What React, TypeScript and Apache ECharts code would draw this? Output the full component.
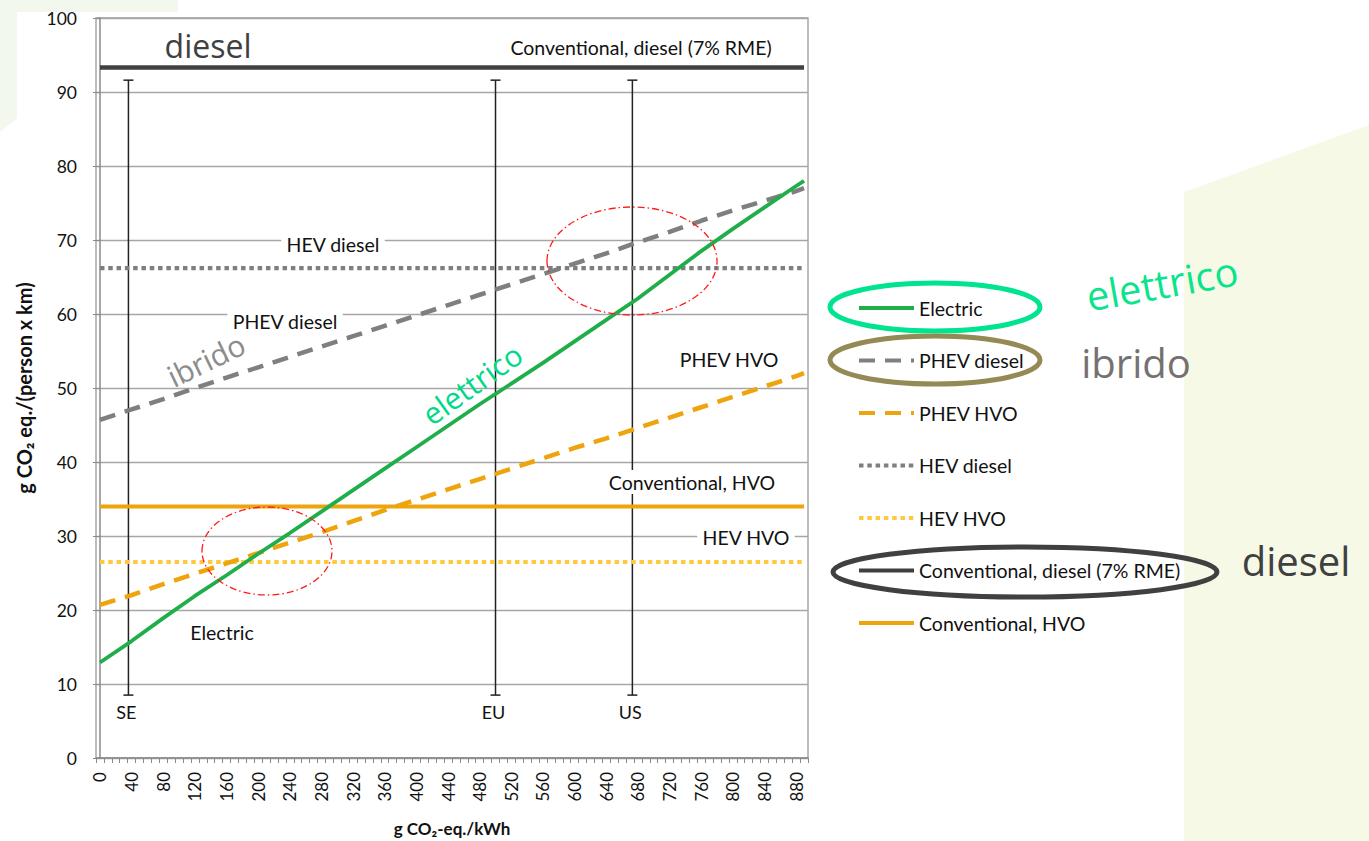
import React, { useEffect, useRef } from 'react';
import * as echarts from 'echarts';

// ---------- data ----------
const xPoints = [0, 40, 80, 120, 160, 200, 240, 280, 320, 360, 400, 440, 480, 520, 560, 600, 640, 680, 720, 760, 800, 840, 880, 890];
const electric = [12.9, 15.8, 18.9, 21.9, 24.7, 27.6, 30.4, 33.3, 36.2, 39.1, 42.0, 44.9, 47.8, 50.6, 53.4, 56.3, 59.2, 62.1, 65.3, 68.5, 71.5, 74.4, 77.3, 78.0];
const phevDiesel = [45.7, 47.1, 48.5, 50.0, 51.4, 52.8, 54.2, 55.6, 57.0, 58.4, 59.8, 61.2, 62.6, 64.0, 65.4, 66.8, 68.2, 69.7, 71.1, 72.6, 74.0, 75.3, 76.6, 77.0];
const phevHvo = [20.7, 22.0, 23.5, 24.9, 26.3, 27.7, 29.1, 30.5, 32.0, 33.5, 34.9, 36.3, 37.7, 39.1, 40.5, 41.9, 43.2, 44.6, 46.0, 47.4, 48.8, 50.2, 51.6, 52.0];
const flatEnds = [0, 890];
const hevDiesel = 66.2;
const hevHvo = 26.5;
const convDiesel = 93.3;
const convHvo = 34.0;

const seriesNames = ['Electric', 'PHEV diesel', 'PHEV HVO', 'HEV diesel', 'HEV HVO', 'Conventional, diesel (7% RME)', 'Conventional, HVO'];

const xTickLabels = [0, 40, 80, 120, 160, 200, 240, 280, 320, 360, 400, 440, 480, 520, 560, 600, 640, 680, 720, 760, 800, 840, 880];

const refNames = ['SE', 'EU', 'US'];
const refX = [36, 500, 673];
const refLow = 8.5;
const refHigh = 91.6;

// ---------- styling ----------
const FONT = 'Lato, "DejaVu Sans", sans-serif';
const ANNOT_FONT = '"Open Sans", "DejaVu Sans", sans-serif';
const GREEN = '#1fae4a';
const GRAY = '#7f7f7f';
const DARK = '#404040';
const ORANGE = '#eea40c';
const LIGHT_ORANGE = '#ffc83d';

// minor tick positions along the x axis (category-slot boundaries)
const xMinorTicks: number[] = [];
for (let v = -5; v <= 895; v += 10) xMinorTicks.push(v);

const pairs = (xs: number[], ys: number[]) => xs.map((x, i) => [x, ys[i]]);
const flat = (v: number) => flatEnds.map((x) => [x, v]);

function label(text: string, x: number, y: number, opts: any = {}) {
  return {
    type: 'text',
    x,
    y,
    z: 100,
    rotation: opts.rotation || 0,
    style: {
      text,
      fill: opts.color || '#111',
      fontFamily: opts.font || FONT,
      fontSize: opts.size || 19.5,
      align: opts.align || 'center',
      verticalAlign: 'middle',
      backgroundColor: opts.bg,
      padding: opts.bg ? [2, 5] : 0,
    },
  };
}

function ring(cx: number, cy: number, rx: number, ry: number, stroke: string, lineWidth: number, lineDash?: number[]) {
  return {
    type: 'ellipse',
    z: 100,
    shape: { cx, cy, rx, ry },
    style: { fill: 'none', stroke, lineWidth, lineDash },
  };
}

export default function App() {
  const ref = useRef<HTMLDivElement>(null);

  useEffect(() => {
    if (!ref.current) return;
    const chart = echarts.init(ref.current, undefined, { renderer: 'svg' });

    const option: any = {
      animation: false,
      backgroundColor: 'transparent',
      grid: {
        left: 96,
        top: 18,
        width: 712,
        height: 740,
        show: true,
        borderColor: '#9a9a9a',
        borderWidth: 1.3,
        backgroundColor: 'transparent',
        containLabel: false,
        outerBoundsMode: 'none',
      },
      xAxis: {
        type: 'value',
        min: -5,
        max: 895,
        name: 'g CO₂-eq./kWh',
        nameLocation: 'middle',
        nameGap: 62,
        nameTextStyle: { fontFamily: FONT, fontWeight: 'bold', fontSize: 17, color: '#111' },
        axisLine: { show: true, lineStyle: { color: '#8a8a8a', width: 1.5 } },
        axisTick: { show: true, customValues: xMinorTicks, length: 5, lineStyle: { color: '#8a8a8a', width: 1 } },
        axisLabel: { customValues: xTickLabels, rotate: 90, margin: 14, fontFamily: FONT, fontSize: 17, color: '#111' },
        splitLine: { show: false },
      },
      yAxis: {
        type: 'value',
        min: 0,
        max: 100,
        interval: 10,
        name: 'g CO₂ eq./(person x km)',
        nameLocation: 'middle',
        nameRotate: 90,
        nameGap: 62,
        nameTextStyle: { fontFamily: FONT, fontWeight: 'bold', fontSize: 20, color: '#111' },
        axisLine: { show: true, lineStyle: { color: '#8a8a8a', width: 1.5 } },
        axisTick: { show: true, length: 7, lineStyle: { color: '#8a8a8a', width: 1 } },
        axisLabel: { margin: 19, fontFamily: FONT, fontSize: 17.5, color: '#111' },
        splitLine: { show: true, lineStyle: { color: '#a6a6a6', width: 1.3 } },
      },
      legend: {
        orient: 'vertical',
        left: 857,
        top: 298,
        padding: 0,
        itemWidth: 55,
        itemHeight: 14,
        itemGap: 32.5,
        data: seriesNames,
        itemStyle: { opacity: 0 },
        lineStyle: { width: 4 },
        textStyle: { fontFamily: FONT, fontSize: 19.5, color: '#111', lineHeight: 20 },
      },
      series: [
        {
          type: 'custom',
          name: 'refs',
          z: 3,
          silent: true,
          encode: { x: 0, y: [1, 2] },
          data: refX.map((x) => [x, refLow, refHigh]),
          renderItem: (params: any, api: any) => {
            const x = api.value(0);
            const top = api.coord([x, api.value(2)]);
            const bot = api.coord([x, api.value(1)]);
            const st = { stroke: '#222', lineWidth: 1.5 };
            return {
              type: 'group',
              children: [
                { type: 'line', shape: { x1: top[0], y1: top[1], x2: bot[0], y2: bot[1] }, style: st },
                { type: 'line', shape: { x1: top[0] - 5, y1: top[1], x2: top[0] + 5, y2: top[1] }, style: st },
                { type: 'line', shape: { x1: bot[0] - 5, y1: bot[1], x2: bot[0] + 5, y2: bot[1] }, style: st },
                {
                  type: 'text',
                  x: bot[0] - 2,
                  y: bot[1] + 17,
                  style: {
                    text: refNames[params.dataIndex],
                    fill: '#111',
                    fontFamily: FONT,
                    fontSize: 18,
                    align: 'center',
                    verticalAlign: 'middle',
                  },
                },
              ],
            };
          },
        },
        {
          name: 'Conventional, diesel (7% RME)',
          type: 'line',
          data: flat(convDiesel),
          symbol: 'none',
          lineStyle: { color: DARK, width: 4.5 },
          itemStyle: { color: DARK },
          z: 4,
        },
        {
          name: 'HEV diesel',
          type: 'line',
          data: flat(hevDiesel),
          symbol: 'none',
          lineStyle: { color: GRAY, width: 4.3, type: [4.5, 3.8] },
          itemStyle: { color: GRAY },
          z: 4,
        },
        {
          name: 'HEV HVO',
          type: 'line',
          data: flat(hevHvo),
          symbol: 'none',
          lineStyle: { color: LIGHT_ORANGE, width: 4, type: [4.5, 3.8] },
          itemStyle: { color: LIGHT_ORANGE },
          z: 4,
        },
        {
          name: 'Conventional, HVO',
          type: 'line',
          data: flat(convHvo),
          symbol: 'none',
          lineStyle: { color: ORANGE, width: 4 },
          itemStyle: { color: ORANGE },
          z: 4,
        },
        {
          name: 'PHEV diesel',
          type: 'line',
          data: pairs(xPoints, phevDiesel),
          symbol: 'none',
          lineStyle: { color: GRAY, width: 4.5, type: [16, 10] },
          itemStyle: { color: GRAY },
          z: 5,
        },
        {
          name: 'PHEV HVO',
          type: 'line',
          data: pairs(xPoints, phevHvo),
          symbol: 'none',
          lineStyle: { color: ORANGE, width: 4.5, type: [16, 10] },
          itemStyle: { color: ORANGE },
          z: 5,
        },
        {
          name: 'Electric',
          type: 'line',
          data: pairs(xPoints, electric),
          symbol: 'none',
          lineStyle: { color: GREEN, width: 3.8 },
          itemStyle: { color: GREEN },
          z: 6,
        },
      ],
      graphic: [
        // page backgrounds
        {
          type: 'polygon',
          z: -10,
          silent: true,
          shape: { points: [[0, 0], [178, 0], [178, 12], [17, 12], [17, 118], [0, 132]] },
          style: { fill: '#f2f8ee' },
        },
        {
          type: 'polygon',
          z: -10,
          silent: true,
          shape: { points: [[1184, 192], [1369, 125], [1369, 841], [1184, 841]] },
          style: { fill: '#f7f9e7' },
        },
        // in-chart labels
        label('diesel', 208, 45, { font: ANNOT_FONT, size: 32, color: DARK }),
        label('Conventional, diesel (7% RME)', 641, 47, {}),
        label('HEV diesel', 333, 244, { bg: '#fff' }),
        label('PHEV diesel', 285, 321, { bg: '#fff' }),
        label('PHEV HVO', 729, 359, {}),
        label('Conventional, HVO', 692, 482, { bg: '#fff' }),
        label('HEV HVO', 746, 537, { bg: '#fff' }),
        label('Electric', 222, 632, {}),
        label('ibrido', 206, 360, { font: ANNOT_FONT, size: 30, color: '#8c8c8c', rotation: (25.7 * Math.PI) / 180 }),
        label('elettrico', 472, 384, { font: ANNOT_FONT, size: 30, color: '#00d98a', rotation: (35.5 * Math.PI) / 180 }),
        // red highlight ellipses
        ring(632, 261, 85, 54, '#ff1a1a', 1.3, [7, 3, 1.5, 3]),
        ring(267, 551, 65, 44, '#ff1a1a', 1.3, [7, 3, 1.5, 3]),
        // legend highlight ellipses
        ring(935, 307, 105, 24, '#00e48f', 5),
        ring(935, 360, 105, 24, '#948a54', 5),
        ring(1025, 572, 192, 25, DARK, 5),
        // side annotations
        label('elettrico', 1162, 283, { font: ANNOT_FONT, size: 40, color: '#0be48d', rotation: (10 * Math.PI) / 180 }),
        label('ibrido', 1136, 362, { font: ANNOT_FONT, size: 40, color: '#767171' }),
        label('diesel', 1296, 560, { font: ANNOT_FONT, size: 40, color: DARK }),
      ],
    };

    chart.setOption(option);
    return () => chart.dispose();
  }, []);

  return (
    <div
      ref={ref}
      style={{ position: 'absolute', left: 0, top: 0, width: '1369px', height: '841px', background: '#fff' }}
    />
  );
}
